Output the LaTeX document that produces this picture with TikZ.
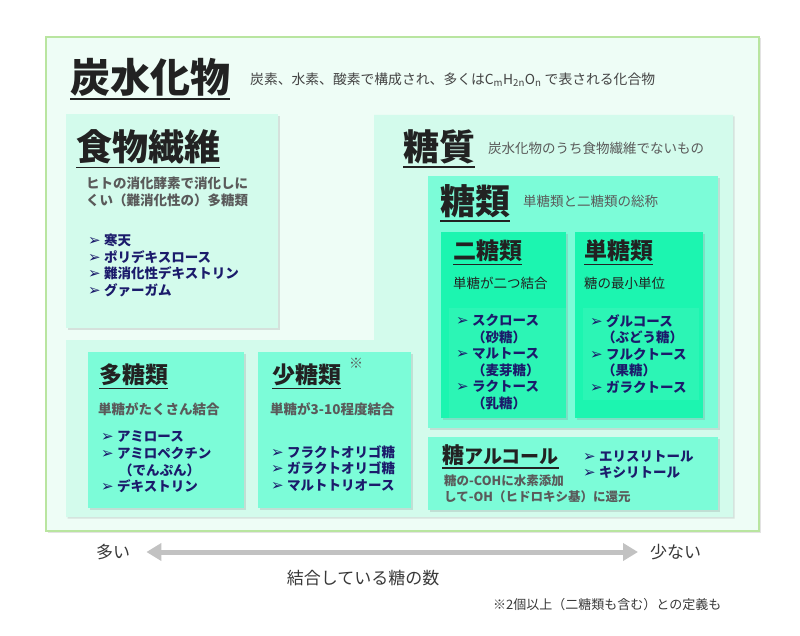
\documentclass[tikz,border=0pt]{standalone}
\usepackage{fontspec}
\setmainfont{Noto Sans CJK JP}
\newfontfamily\symfont{DejaVu Sans}
\usepackage{xcolor}
\usepackage{tikz}
\usetikzlibrary{positioning, arrows.meta, shadows}

\definecolor{outerfill}{HTML}{EEFDF6}
\definecolor{outerdraw}{HTML}{B9E5A0}
\definecolor{mintfill}{HTML}{D3FBEC}
\definecolor{aquafill}{HTML}{7CFCD8}
\definecolor{greenfill}{HTML}{1CF5B0}
\definecolor{titlecol}{HTML}{222222}
\definecolor{desccol}{HTML}{5A5A5A}
\definecolor{itemcol}{HTML}{1B1B6B}
\definecolor{arrowcol}{HTML}{C2C2C2}

\newcommand{\fs}[1]{\fontsize{#1}{1.2\dimexpr #1pt\relax}\selectfont}
\newcommand{\bul}{\makebox[16pt][l]{\symfont\fontsize{15}{13}\selectfont ➢}}

\begin{document}
\begin{tikzpicture}[
  x=1pt, y=-1pt,
  shad/.style={drop shadow={opacity=0.22, shadow xshift=1.5pt, shadow yshift=-1.5pt}},
  box/.style={rectangle, anchor=north west, inner sep=0pt, shad},
  T/.style={anchor=west, inner sep=0pt, text=titlecol},
  uline/.style={line width=1.8pt, titlecol},
  sub/.style={anchor=west, inner sep=0pt, text=desccol, font=\fs{13.5}},
  desc/.style={anchor=north west, inner sep=0pt, align=left, text=desccol,
               font=\fontsize{13.5}{16.5}\selectfont\bfseries},
  ddesc/.style={desc, text=titlecol, font=\fontsize{13.5}{16.5}\selectfont},
  items/.style={anchor=north west, inner sep=0pt, align=left, text=itemcol,
                font=\fontsize{13.5}{16.6}\selectfont\bfseries},
]
\useasboundingbox (0,0) rectangle (800,636);

%% ---- Outer frame ----
\node[box, draw=outerdraw, line width=2pt, fill=outerfill,
      minimum width=713pt, minimum height=494pt] (outer) at (45,36) {};
\node[T, font=\fs{40}\bfseries] (tanka) at (70,77) {炭水化物};
\draw[uline, line width=2.2pt] ([yshift=-3pt]tanka.south west) -- ([yshift=-3pt]tanka.south east);
\node[sub, font=\fs{13.8}, text=titlecol!85] (tankasub) at (250,80)
  {炭素、水素、酸素で構成され、多くはC$_\mathrm{m}$H$_\mathrm{2n}$O$_\mathrm{n}$ で表される化合物};

%% ---- Dietary fibre ----
\node[box, fill=mintfill, minimum width=212pt, minimum height=214pt] (fib) at (66,114) {};
\node[T, font=\fs{36}\bfseries] (fibt) at (76,147) {食物繊維};
\draw[uline] ([yshift=-3pt]fibt.south west) -- ([yshift=-3pt]fibt.south east);
\node[desc] (fibd) at (86,177) {ヒトの消化酵素で消化しに\\くい（難消化性の）多糖類};
\node[items] (fibl) at (88,234)
  {\bul 寒天\\\bul ポリデキスロース\\\bul 難消化性デキストリン\\\bul グァーガム};

%% ---- Sugar region (L-shape) ----
\fill[mintfill, shad] (374,115) -- (733,115) -- (733,517) -- (66,517)
  -- (66,340) -- (374,340) -- cycle;
\node[T, font=\fs{36}\bfseries] (sugt) at (403,147) {糖質};
\draw[uline] ([yshift=-3pt]sugt.south west) -- ([yshift=-3pt]sugt.south east);
\node[sub] (sugs) at (488,148) {炭水化物のうち食物繊維でないもの};

%% ---- Saccharides ----
\node[box, fill=aquafill, minimum width=290pt, minimum height=252pt] (sac) at (428,176) {};
\node[T, font=\fs{35}\bfseries] (sact) at (440,201) {糖類};
\draw[uline] ([yshift=-3pt]sact.south west) -- ([yshift=-3pt]sact.south east);
\node[sub] (sacs) at (523,201) {単糖類と二糖類の総称};

% disaccharides
\node[box, fill=greenfill, minimum width=125pt, minimum height=186pt] (di) at (441,232) {};
\fill[white, opacity=0.07] (449,308) rectangle (566,418);
\node[T, font=\fs{23}\bfseries] (dit) at (453,251) {二糖類};
\draw[uline, line width=1.5pt] ([yshift=-2.5pt]dit.south west) -- ([yshift=-2.5pt]dit.south east);
\node[ddesc] (did) at (453,277) {単糖が二つ結合};
\node[items] (dil) at (456,314)
  {\bul スクロース\\\hspace{16pt}（砂糖）\\\bul マルトース\\\hspace{16pt}（麦芽糖）\\\bul ラクトース\\\hspace{16pt}（乳糖）};

% monosaccharides
\node[box, fill=greenfill, minimum width=128pt, minimum height=186pt] (mono) at (575,232) {};
\fill[white, opacity=0.07] (583,308) rectangle (699,400);
\node[T, font=\fs{23}\bfseries] (monot) at (584,251) {単糖類};
\draw[uline, line width=1.5pt] ([yshift=-2.5pt]monot.south west) -- ([yshift=-2.5pt]monot.south east);
\node[ddesc] (monod) at (584,277) {糖の最小単位};
\node[items] (monol) at (590,314)
  {\bul グルコース\\\hspace{12pt}（ぶどう糖）\\\bul フルクトース\\\hspace{12pt}（果糖）\\\bul ガラクトース};

%% ---- Polysaccharides ----
\node[box, fill=aquafill, minimum width=156pt, minimum height=156pt] (poly) at (88,352) {};
\node[T, font=\fs{23}\bfseries] (polyt) at (99,375) {多糖類};
\draw[uline, line width=1.5pt] ([yshift=-2.5pt]polyt.south west) -- ([yshift=-2.5pt]polyt.south east);
\node[desc] (polyd) at (98,402) {単糖がたくさん結合};
\node[items] (polyl) at (101,431)
  {\bul アミロース\\\bul アミロペクチン\\\hspace{18pt}（でんぷん）\\\bul デキストリン};

%% ---- Oligosaccharides ----
\node[box, fill=aquafill, minimum width=153pt, minimum height=156pt] (oli) at (258,352) {};
\node[T, font=\fs{23}\bfseries] (olit) at (272,375) {少糖類};
\draw[uline, line width=1.5pt] ([yshift=-2.5pt]olit.south west) -- ([yshift=-2.5pt]olit.south east);
\node[T, font=\fs{14}, text=desccol] (olimark) at (349,363) {※};
\node[desc] (olid) at (270,402) {単糖が3-10程度結合};
\node[items] (olil) at (271,445)
  {\bul フラクトオリゴ糖\\\bul ガラクトオリゴ糖\\\bul マルトトリオース};

%% ---- Sugar alcohol ----
\node[box, fill=aquafill, minimum width=290pt, minimum height=73pt] (alc) at (428,437) {};
\node[T, font=\fs{19}\bfseries] (alct) at (442,455) {{\fs{22}糖}アルコール};
\draw[uline, line width=1.5pt] ([yshift=-2.5pt]alct.south west) -- ([yshift=-2.5pt]alct.south east);
\node[desc, font=\fontsize{12.5}{15.5}\selectfont\bfseries] (alcd) at (444,475)
  {糖の-COHに水素添加\\して-OH（ヒドロキシ基）に還元};
\node[items] (alcl) at (583,450) {\bul エリスリトール\\\bul キシリトール};

%% ---- Axis below ----
\node[T, font=\fs{17}, text=titlecol!90] (many) at (96,552) {多い};
\node[T, font=\fs{17}, text=titlecol!90] (few) at (650,552) {少ない};
\draw[{Triangle[length=15pt, width=17pt]}-{Triangle[length=15pt, width=17pt]},
      line width=5pt, arrowcol] ([xshift=16pt]many.east) -- ([xshift=-12pt]few.west);
\node[font=\fs{17}, text=titlecol!90, inner sep=0pt] (axis) at (363,578) {結合している糖の数};
\node[T, font=\fs{13}, text=titlecol!90] (note) at (493,605) {※2個以上（二糖類も含む）との定義も};

\end{tikzpicture}
\end{document}
